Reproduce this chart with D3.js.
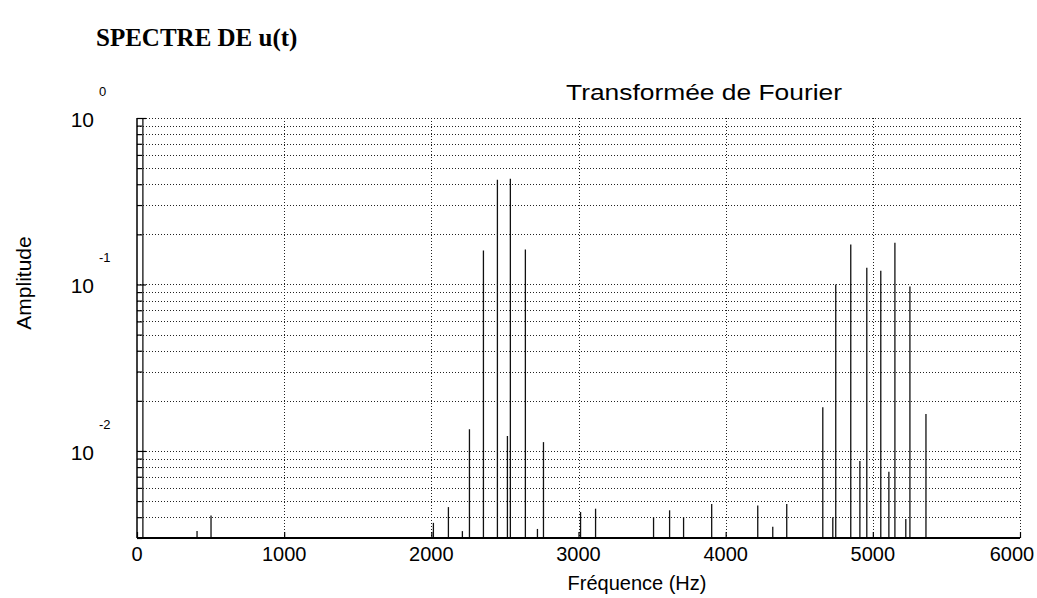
<!DOCTYPE html>
<html>
<head>
<meta charset="utf-8">
<script src="https://cdn.jsdelivr.net/npm/d3@7"></script>
<style>
  html, body { margin: 0; padding: 0; background: #fff; }
  svg { display: block; }
  text { font-family: "Liberation Sans", Arial, sans-serif; fill: #000; }
</style>
</head>
<body>
<svg id="chart" width="1037" height="598"></svg>
<script>
// ---- data ----
const frequencies = [40, 408, 503, 2014, 2116, 2211, 2259, 2354, 2449, 2517, 2537, 2639, 2721, 2762,
  3014, 3116, 3510, 3619, 3714, 3905, 4218, 4320, 4415,
  4660, 4728, 4748, 4850, 4912, 4959, 5054, 5109, 5150, 5224, 5252, 5361];
const amplitudes = [1.0, 0.0033, 0.0041, 0.0037, 0.0046, 0.0033, 0.0135, 0.160, 0.425, 0.0123, 0.431, 0.162, 0.0034, 0.0113,
  0.0043, 0.0045, 0.0040, 0.0044, 0.0040, 0.0048, 0.0047, 0.0035, 0.0048,
  0.0183, 0.0040, 0.100, 0.174, 0.0087, 0.126, 0.121, 0.0075, 0.178, 0.0039, 0.0973, 0.0167];
const xTickValues = [0, 1000, 2000, 3000, 4000, 5000, 6000];
const yDecades = [1, 0.1, 0.01];
const yDecadeExponents = ["0", "-1", "-2"];
const yDomain = [0.003, 1];
const xDomain = [0, 6000];
const titleText = "SPECTRE DE u(t)";
const plotTitle = "Transformée de Fourier";
const xLabel = "Fréquence (Hz)";
const yLabel = "Amplitude";

// ---- layout ----
const svg = d3.select("#chart");
const mLeft = 137, mRight = 1020, mTop = 118, mBottom = 538;

const x = d3.scaleLinear().domain(xDomain).range([mLeft, mRight]);
const y = d3.scaleLog().domain(yDomain).range([mBottom, mTop]);

// minor log grid values
const yGridValues = [];
for (let e = -3; e <= 0; e++) {
  for (let k = 1; k <= 9; k++) {
    const v = k * Math.pow(10, e);
    if (v >= yDomain[0] * 0.999 && v <= yDomain[1] * 1.001) yGridValues.push(+v.toPrecision(3));
  }
}

// grid
const grid = svg.append("g").attr("stroke", "#222").attr("stroke-width", 1)
  .attr("stroke-dasharray", "1,2").attr("shape-rendering", "crispEdges");
grid.selectAll("line.h").data(yGridValues).enter().append("line")
  .attr("x1", mLeft).attr("x2", mRight)
  .attr("y1", d => Math.round(y(d)) + 0.5).attr("y2", d => Math.round(y(d)) + 0.5);
grid.selectAll("line.v").data(xTickValues.slice(1)).enter().append("line")
  .attr("y1", mTop).attr("y2", mBottom)
  .attr("x1", d => Math.round(x(d)) + 0.5).attr("x2", d => Math.round(x(d)) + 0.5);

// spikes
svg.append("g").selectAll("line").data(frequencies.map((f, i) => ({f, a: amplitudes[i]})))
  .enter().append("line")
  .attr("x1", d => x(d.f)).attr("x2", d => x(d.f))
  .attr("y1", y(yDomain[0])).attr("y2", d => y(d.a))
  .attr("stroke", "#111").attr("stroke-width", 1.3);

// y axis (log) with ticks inside
const yAxis = d3.axisLeft(y).tickValues(yGridValues).tickSize(-5).tickFormat("");
const gy = svg.append("g").attr("transform", `translate(${mLeft},0)`).call(yAxis);
gy.select(".domain").attr("stroke", "#000").attr("stroke-width", 1.5).attr("d", `M0,${mTop}V${mBottom}`);
gy.selectAll(".tick line").attr("stroke", "#000").attr("stroke-width", 1.2)
  .attr("x2", d => yDecades.includes(d) ? 9 : 5);

// x axis with ticks inside
const xAxis = d3.axisBottom(x).tickValues(xTickValues).tickSize(-6).tickFormat("");
const gx = svg.append("g").attr("transform", `translate(0,${mBottom})`).call(xAxis);
gx.select(".domain").attr("stroke", "#000").attr("stroke-width", 1.8).attr("d", `M${mLeft},0H${mRight}`);
gx.selectAll(".tick line").attr("stroke", "#000").attr("stroke-width", 1.2);

// x tick labels
svg.append("g").selectAll("text").data(xTickValues).enter().append("text")
  .attr("x", d => x(d) + (d === 6000 ? -8 : 0))
  .attr("y", 561)
  .attr("text-anchor", "middle")
  .attr("font-size", 20)
  .text(d => d3.format("d")(d));

// y tick labels: "10" with exponent above-right
const yl = svg.append("g");
yl.selectAll("text.base").data(yDecades).enter().append("text")
  .attr("x", 94).attr("y", d => y(d) + 9)
  .attr("text-anchor", "end").attr("font-size", 21)
  .text("10");
yl.selectAll("text.exp").data(yDecades).enter().append("text")
  .attr("x", 99).attr("y", d => y(d) - 22)
  .attr("text-anchor", "start").attr("font-size", 13)
  .text((d, i) => yDecadeExponents[i]);

// titles and axis labels
svg.append("text").attr("x", 96).attr("y", 46)
  .attr("font-weight", "bold").attr("font-size", 25)
  .style("font-family", "'Liberation Serif', 'Times New Roman', serif")
  .text(titleText);

svg.append("text").attr("x", 704).attr("y", 100)
  .attr("text-anchor", "middle").attr("font-size", 22)
  .attr("textLength", 276).attr("lengthAdjust", "spacingAndGlyphs")
  .text(plotTitle);

svg.append("text").attr("x", 637).attr("y", 590)
  .attr("text-anchor", "middle").attr("font-size", 20)
  .text(xLabel);

svg.append("text")
  .attr("transform", "translate(31,283) rotate(-90)")
  .attr("text-anchor", "middle").attr("font-size", 21)
  .text(yLabel);
</script>
</body>
</html>
